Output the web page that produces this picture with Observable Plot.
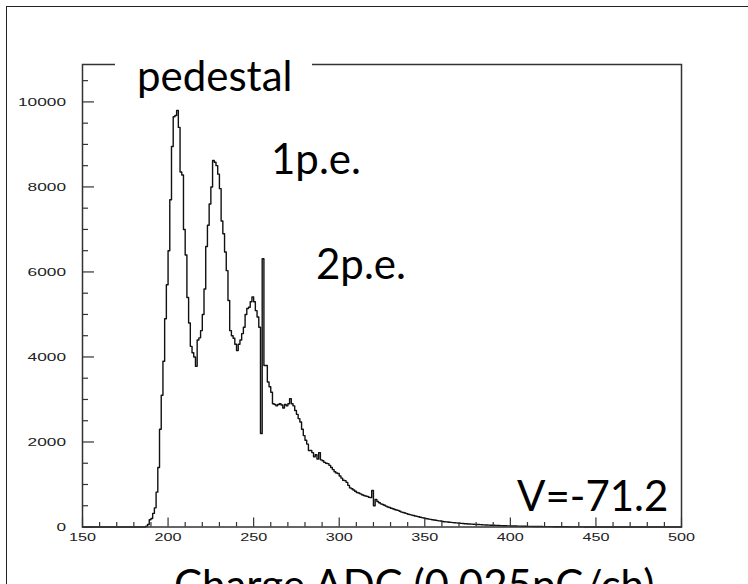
<!DOCTYPE html>
<html>
<head>
<meta charset="utf-8">
<script src="https://cdn.jsdelivr.net/npm/d3@7"></script>
<script src="https://cdn.jsdelivr.net/npm/@observablehq/plot@0.6"></script>
<style>
  html, body { margin: 0; padding: 0; background: #fff; }
  #wrap { position: relative; width: 748px; height: 584px; overflow: hidden; background: #fff; }
  #border { position: absolute; left: 6px; top: 6px; width: 800px; height: 800px; border: 1.5px solid #222; box-sizing: border-box; }
  #chart { position: absolute; left: 0; top: 0; }
  .lbl { position: absolute; font-family: Lato, "Open Sans", sans-serif; font-size: 42px; color: #000; line-height: 1; white-space: nowrap; }
  #gap { position: absolute; left: 115px; top: 58px; width: 197px; height: 12px; background: #fff; }
</style>
</head>
<body>
<div id="wrap">
  <div id="border"></div>
  <div id="chart"></div>
  <div id="gap"></div>
  <div class="lbl" style="left:137px; top:54px;">pedestal</div>
  <div class="lbl" style="left:271px; top:137px;">1p.e.</div>
  <div class="lbl" style="left:316px; top:242px;">2p.e.</div>
  <div class="lbl" style="left:517px; top:474px;">V=-71.2</div>
  <div class="lbl" style="left:174px; top:563px;">Charge ADC (0.025pC/ch)</div>
</div>
<script>
// ---- data ----
const xRange = [150, 500];
const yMax = 10880;
const firstChannel = 186;
const counts = [
  0, 20, 60, 170, 200, 320, 450, 820, 1400, 2300,          // 186-195
  3100, 3900, 4900, 5700, 6500, 7700, 8950, 9650, 9680, 9800, // 196-205
  9400, 8350, 8280, 7000, 6400, 5400, 4800, 4250, 4100, 4000, // 206-215
  3780, 4400, 4450, 4620, 5000, 5600, 6600, 7100, 7600, 8000, // 216-225
  8620, 8580, 8500, 8300, 7960, 7200, 6900, 6470, 6030, 5330, // 226-235
  4620, 4500, 4440, 4300, 4150, 4300, 4400, 4550, 4700, 5000, // 236-245
  5140, 5170, 5300, 5410, 5300, 5090, 4940, 4700, 2200, 6310, // 246-255
  3800, 3800, 3410, 3300, 3170, 2900, 2880, 2850, 2880, 2900, // 256-265
  2870, 2800, 2880, 2850, 2900, 3020, 2900, 2850, 2740, 2650, // 266-275
  2550, 2470, 2300, 2150, 2040, 1950, 1800, 1800, 1750, 1650, // 276-285
  1700, 1600, 1750, 1580, 1560, 1520, 1500, 1490, 1450, 1400, // 286-295
  1350, 1300, 1270, 1260, 1200, 1150, 1100, 1090, 1050, 980,  // 296-305
  920, 900, 870, 840, 810, 800, 780, 760, 740, 730,           // 306-315
  720, 700, 690, 860, 500, 650, 600, 570, 545, 530,           // 316-325
  510, 490, 470, 460, 440, 430, 410, 400, 390, 370,           // 326-335
  350, 340, 330, 315, 300, 290, 280, 270, 260, 250,           // 336-345
  240, 230, 220, 210, 200, 195, 185, 180, 170, 165,           // 346-355
  160, 150, 145, 140, 130, 125, 120, 118, 112, 108,           // 356-365
  104, 100, 96, 92, 88, 85, 82, 78, 75, 72,                   // 366-375
  70, 67, 64, 62, 60, 58, 55, 53, 50, 48,                     // 376-385
  46, 44, 42, 41, 40, 38, 36, 34, 33, 31,                     // 386-395
  30, 29, 27, 26, 25, 24, 23, 22, 21, 20,                     // 396-405
  19, 18, 17, 16, 15, 15, 14, 13, 13, 12,                     // 406-415
  12, 11, 11, 10, 10, 9, 9, 8, 8, 7,                          // 416-425
  7, 7, 6, 6, 6, 5, 5, 5, 4, 4,                               // 426-435
  4, 3, 3, 3, 3, 2, 2, 1, 1, 0                                // 436-445
];
const xMajorTicks = [150, 200, 250, 300, 350, 400, 450, 500];
const yMajorTicks = [0, 2000, 4000, 6000, 8000, 10000];

// ---- build table ----
const rows = [];
for (let ch = xRange[0]; ch <= xRange[1]; ch++) {
  const i = ch - firstChannel;
  rows.push({ch, n: (i >= 0 && i < counts.length) ? counts[i] : 0});
}
const xMinorTicks = d3.range(xRange[0], xRange[1] + 1, 10).filter(v => !xMajorTicks.includes(v));
const yMinorTicks = d3.range(0, yMax, 500).filter(v => !yMajorTicks.includes(v));

const W = 748, H = 584, mL = 82, mR = 67, mT = 64, mB = 57.5;
const plotW = W - mL - mR, plotH = H - mT - mB;
const tickStyle = {stroke: "#333", strokeWidth: 1.2};

const chart = Plot.plot({
  width: W,
  height: H,
  marginLeft: mL,
  marginRight: mR,
  marginTop: mT,
  marginBottom: mB,
  style: {fontFamily: "'Liberation Sans', Arial, sans-serif", fontSize: "11px", color: "#222", background: "transparent", overflow: "visible"},
  x: {domain: xRange, axis: null},
  y: {domain: [0, yMax], axis: null},
  marks: [
    Plot.line(rows, {x: "ch", y: "n", curve: "step-after", stroke: "#111", strokeWidth: 1.4}),
    Plot.frame({stroke: "#333", strokeWidth: 1.5}),
    // inward ticks
    Plot.ruleX(xMajorTicks, {x: d => d, insetTop: plotH - 9, ...tickStyle}),
    Plot.ruleX(xMinorTicks, {x: d => d, insetTop: plotH - 4.5, ...tickStyle}),
    Plot.ruleY(yMajorTicks, {y: d => d, insetRight: plotW - 12, ...tickStyle}),
    Plot.ruleY(yMinorTicks, {y: d => d, insetRight: plotW - 6, ...tickStyle}),
    // tick labels
    Plot.text(xMajorTicks, {x: d => d, text: d => String(d), frameAnchor: "bottom", lineAnchor: "top", dy: 6.5, fill: "#222", className: "xtext"}),
    Plot.text(yMajorTicks, {y: d => d, text: d => String(d), frameAnchor: "left", textAnchor: "end", dx: -16.5, dy: 0.5, fill: "#222", className: "ytext"})
  ]
});
document.getElementById("chart").appendChild(chart);

// ROOT-style stretched tick labels
d3.select(chart).selectAll(".xtext text").each(function() {
  const t = this.textContent;
  d3.select(this).attr("textLength", t.length * 9).attr("lengthAdjust", "spacingAndGlyphs");
});
d3.select(chart).selectAll(".ytext text").each(function() {
  const t = this.textContent;
  d3.select(this).attr("textLength", t.length * 9.6).attr("lengthAdjust", "spacingAndGlyphs");
});
</script>
</body>
</html>
